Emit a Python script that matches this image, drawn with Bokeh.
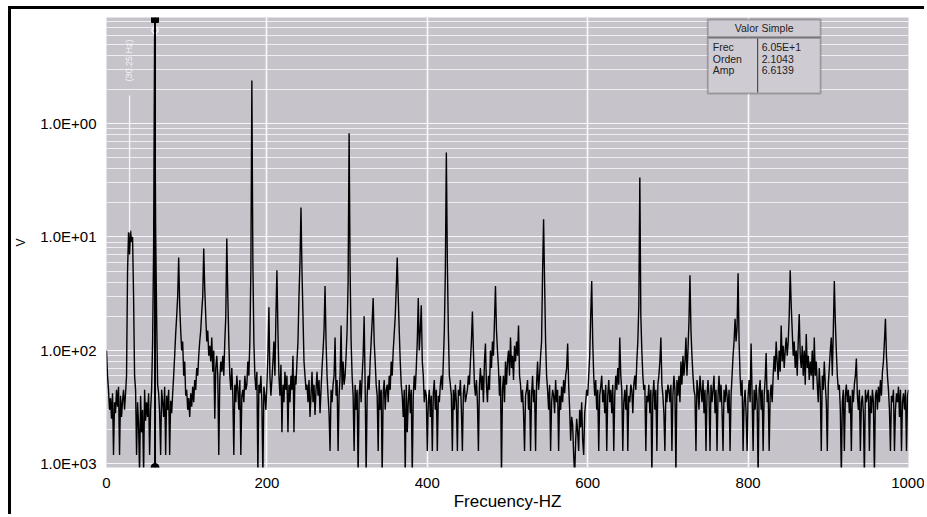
import math
from bokeh.plotting import figure
from bokeh.models import (Range1d, FixedTicker, CustomJSTickFormatter,
                          BoxAnnotation, Label, Span)
from bokeh.embed import file_html
from bokeh.resources import INLINE

# ---------------- data ----------------
freq_step = 1.25  # Hz per spectral line
amplitude = [
    0.010, 0.006, 0.0045, 0.003, 0.0038, 0.0025, 0.0042, 0.0012, 0.0035, 0.0028, 0.0045, 0.0032, 0.0048, 0.0012, 0.004, 0.0026, 0.0036, 0.0045, 0.003, 0.0042,
    0.006, 0.05, 0.11, 0.07, 0.114, 0.09, 0.1, 0.03, 0.006, 0.0045, 0.0012, 0.0035, 0.0022, 0.0008, 0.004, 0.0019, 0.003, 0.0008, 0.0045, 0.0024,
    0.0035, 0.0026, 0.0042, 0.0012, 0.003, 0.0045, 0.012, 0.08, 6.61, 0.12, 0.02, 0.005, 0.0042, 0.0028, 0.0012, 0.0045, 0.0035, 0.0026, 0.0048, 0.0012,
    0.004, 0.003, 0.0045, 0.0012, 0.0036, 0.0028, 0.0042, 0.006, 0.009, 0.014, 0.02, 0.03, 0.066, 0.025, 0.015, 0.01, 0.012, 0.006, 0.008, 0.004,
    0.0045, 0.003, 0.0038, 0.0026, 0.0042, 0.0032, 0.0048, 0.0035, 0.0055, 0.0045, 0.007, 0.006, 0.009, 0.012, 0.015, 0.022, 0.03, 0.079, 0.035, 0.02,
    0.012, 0.015, 0.009, 0.011, 0.008, 0.013, 0.0065, 0.01, 0.0025, 0.007, 0.009, 0.006, 0.0012, 0.0055, 0.008, 0.0065, 0.009, 0.006, 0.012, 0.02,
    0.097, 0.03, 0.012, 0.006, 0.0045, 0.007, 0.004, 0.0012, 0.005, 0.0035, 0.006, 0.0045, 0.003, 0.0055, 0.0012, 0.004, 0.0045, 0.0035, 0.006, 0.0045,
    0.005, 0.008, 0.006, 0.012, 0.05, 2.39, 0.06, 0.012, 0.006, 0.0045, 0.0065, 0.0008, 0.005, 0.0042, 0.006, 0.0035, 0.0008, 0.0048, 0.004, 0.003,
    0.005, 0.009, 0.024, 0.006, 0.004, 0.0055, 0.008, 0.012, 0.006, 0.02, 0.051, 0.015, 0.006, 0.004, 0.0075, 0.0019, 0.005, 0.0035, 0.0065, 0.0045,
    0.006, 0.0019, 0.005, 0.0035, 0.006, 0.0045, 0.009, 0.0019, 0.006, 0.005, 0.008, 0.012, 0.03, 0.06, 0.182, 0.05, 0.02, 0.008, 0.006, 0.0045,
    0.005, 0.0035, 0.0055, 0.0026, 0.004, 0.0065, 0.0035, 0.005, 0.0027, 0.0045, 0.0065, 0.004, 0.0055, 0.0028, 0.0045, 0.007, 0.01, 0.015, 0.037, 0.012,
    0.006, 0.004, 0.0028, 0.0013, 0.0045, 0.0035, 0.005, 0.006, 0.013, 0.004, 0.0055, 0.0013, 0.004, 0.006, 0.0166, 0.0045, 0.008, 0.005, 0.006, 0.009,
    0.015, 0.04, 0.82, 0.05, 0.012, 0.006, 0.004, 0.0013, 0.005, 0.003, 0.0045, 0.0008, 0.004, 0.0055, 0.0035, 0.006, 0.009, 0.02, 0.005, 0.0008,
    0.004, 0.006, 0.0045, 0.008, 0.012, 0.018, 0.029, 0.012, 0.008, 0.005, 0.004, 0.0013, 0.0055, 0.003, 0.0045, 0.0008, 0.0042, 0.0055, 0.003, 0.0045,
    0.005, 0.0035, 0.006, 0.0045, 0.008, 0.006, 0.01, 0.014, 0.02, 0.035, 0.066, 0.03, 0.015, 0.008, 0.005, 0.004, 0.0026, 0.0045, 0.0008, 0.005,
    0.0019, 0.0035, 0.005, 0.0028, 0.0045, 0.0008, 0.004, 0.006, 0.0045, 0.007, 0.012, 0.029, 0.01, 0.015, 0.025, 0.008, 0.006, 0.0035, 0.0045, 0.004,
    0.0013, 0.0035, 0.0045, 0.0026, 0.004, 0.0013, 0.0042, 0.0055, 0.003, 0.0045, 0.0013, 0.004, 0.0035, 0.005, 0.006, 0.0045, 0.008, 0.015, 0.05, 0.555,
    0.06, 0.015, 0.006, 0.005, 0.004, 0.0013, 0.0045, 0.003, 0.005, 0.0035, 0.0013, 0.0045, 0.004, 0.0055, 0.003, 0.0013, 0.0042, 0.005, 0.0035, 0.004,
    0.0045, 0.006, 0.005, 0.008, 0.012, 0.022, 0.01, 0.005, 0.004, 0.0055, 0.0035, 0.0013, 0.005, 0.007, 0.0045, 0.006, 0.0035, 0.008, 0.0115, 0.005,
    0.0035, 0.006, 0.0045, 0.01, 0.007, 0.012, 0.009, 0.018, 0.037, 0.015, 0.01, 0.007, 0.004, 0.006, 0.0008, 0.0045, 0.006, 0.0035, 0.008, 0.005,
    0.008, 0.01, 0.006, 0.013, 0.007, 0.009, 0.0055, 0.011, 0.008, 0.012, 0.009, 0.0166, 0.006, 0.005, 0.0035, 0.0045, 0.0028, 0.0013, 0.004, 0.0045,
    0.0055, 0.003, 0.0045, 0.0013, 0.004, 0.006, 0.0035, 0.0045, 0.0013, 0.005, 0.008, 0.0045, 0.006, 0.009, 0.012, 0.05, 0.143, 0.04, 0.012, 0.006,
    0.0045, 0.003, 0.005, 0.0013, 0.0035, 0.0045, 0.004, 0.0028, 0.0055, 0.0035, 0.0045, 0.0013, 0.004, 0.003, 0.0048, 0.0035, 0.0055, 0.0042, 0.006, 0.007,
    0.0115, 0.005, 0.003, 0.0016, 0.0026, 0.0022, 0.0012, 0.0008, 0.0016, 0.0025, 0.0019, 0.0013, 0.003, 0.0021, 0.0035, 0.0016, 0.0012, 0.0028, 0.0035, 0.0045,
    0.004, 0.006, 0.009, 0.02, 0.041, 0.012, 0.006, 0.004, 0.0055, 0.003, 0.0045, 0.0013, 0.004, 0.0048, 0.006, 0.0035, 0.0045, 0.0028, 0.005, 0.0013,
    0.004, 0.0055, 0.0035, 0.0045, 0.0028, 0.005, 0.0013, 0.004, 0.006, 0.0045, 0.007, 0.005, 0.013, 0.006, 0.0045, 0.0013, 0.0035, 0.0045, 0.003, 0.005,
    0.0013, 0.004, 0.0035, 0.005, 0.0045, 0.0028, 0.005, 0.006, 0.0045, 0.008, 0.012, 0.025, 0.334, 0.02, 0.01, 0.006, 0.0045, 0.005, 0.0013, 0.004,
    0.0035, 0.005, 0.0028, 0.0045, 0.0008, 0.004, 0.0055, 0.003, 0.0045, 0.0013, 0.005, 0.006, 0.008, 0.013, 0.005, 0.004, 0.0028, 0.0013, 0.0045, 0.0035,
    0.005, 0.0045, 0.0035, 0.005, 0.0013, 0.004, 0.006, 0.0045, 0.0008, 0.0055, 0.004, 0.006, 0.0035, 0.008, 0.005, 0.009, 0.006, 0.008, 0.013, 0.006,
    0.01, 0.018, 0.046, 0.015, 0.009, 0.006, 0.0045, 0.004, 0.0013, 0.0055, 0.0045, 0.003, 0.006, 0.0045, 0.0035, 0.0055, 0.0028, 0.0045, 0.0013, 0.004,
    0.0055, 0.004, 0.0013, 0.005, 0.0035, 0.0045, 0.006, 0.0028, 0.0045, 0.0013, 0.004, 0.006, 0.0035, 0.005, 0.003, 0.0013, 0.0045, 0.0035, 0.005, 0.004,
    0.0028, 0.0045, 0.0013, 0.004, 0.006, 0.009, 0.012, 0.019, 0.012, 0.016, 0.048, 0.012, 0.006, 0.004, 0.0055, 0.0013, 0.0035, 0.0045, 0.0028, 0.0013,
    0.004, 0.0055, 0.0035, 0.0115, 0.004, 0.0013, 0.0045, 0.003, 0.005, 0.0035, 0.0008, 0.0045, 0.0055, 0.003, 0.0045, 0.0013, 0.004, 0.0055, 0.0095, 0.0035,
    0.0045, 0.0013, 0.004, 0.005, 0.0035, 0.006, 0.009, 0.0065, 0.012, 0.008, 0.0055, 0.01, 0.0065, 0.0166, 0.008, 0.011, 0.007, 0.01, 0.013, 0.009,
    0.012, 0.02, 0.051, 0.025, 0.015, 0.009, 0.012, 0.007, 0.01, 0.006, 0.012, 0.021, 0.009, 0.007, 0.011, 0.006, 0.01, 0.005, 0.014, 0.007,
    0.009, 0.0055, 0.008, 0.006, 0.01, 0.0045, 0.013, 0.006, 0.008, 0.005, 0.0035, 0.007, 0.0045, 0.0013, 0.006, 0.0045, 0.008, 0.005, 0.0035, 0.0013,
    0.005, 0.007, 0.01, 0.013, 0.006, 0.015, 0.041, 0.018, 0.01, 0.006, 0.0045, 0.005, 0.003, 0.0008, 0.0035, 0.0045, 0.0013, 0.004, 0.005, 0.0035,
    0.0045, 0.0028, 0.004, 0.0013, 0.0045, 0.0035, 0.005, 0.006, 0.0085, 0.004, 0.003, 0.0045, 0.0013, 0.0035, 0.004, 0.0028, 0.0008, 0.0045, 0.0035, 0.004,
    0.0045, 0.0013, 0.004, 0.0028, 0.0045, 0.0035, 0.0008, 0.004, 0.0045, 0.003, 0.0048, 0.0035, 0.0055, 0.004, 0.0065, 0.008, 0.012, 0.019, 0.009, 0.006,
    0.0045, 0.003, 0.0013, 0.004, 0.0035, 0.0045, 0.0013, 0.003, 0.0042, 0.0035, 0.0048, 0.0026, 0.0045, 0.0013, 0.0035, 0.0042, 0.003, 0.0045, 0.0013, 0.004,
    0.0045,
]
frequency = [i * freq_step for i in range(len(amplitude))]

x_ticks = [0, 200, 400, 600, 800, 1000]
y_ticks = [1.0, 0.1, 0.01, 0.001]
y_tick_labels = ["1.0E+00", "1.0E+01", "1.0E+02", "1.0E+03"]

cursor_freq = 60.5
cursor_amp = 6.6139
info_title = "Valor Simple"
info_names = ["Frec", "Orden", "Amp"]
info_values = ["6.05E+1", "2.1043", "6.6139"]
marker_label = "(30.25 Hz)"

# ---------------- layout constants (page pixels) ----------------
PAGE_W, PAGE_H = 927, 517
OFF_X, OFF_Y = 11, 9          # figure origin on the page (after black frame)
FL, FT, FW, FH = 105, 17, 803, 450   # plot area on the page
W, H = PAGE_W - OFF_X, PAGE_H - OFF_Y
X0, X1 = 0, 1000
LOG_TOP, LOG_BOT = 0.934, -3.031
BG = "#c7c3cb"
FONT = "Liberation Sans"


def fx(px):
    return X0 + (px - FL) / FW * (X1 - X0)


def fy(py):
    return 10 ** (LOG_TOP - (py - FT) / FH * (LOG_TOP - LOG_BOT))


p = figure(width=W, height=H, x_range=Range1d(X0, X1),
           y_range=Range1d(10 ** LOG_BOT, 10 ** LOG_TOP), y_axis_type="log",
           output_backend="svg", toolbar_location=None,
           min_border_left=FL - OFF_X, min_border_right=PAGE_W - FL - FW,
           min_border_top=FT - OFF_Y, min_border_bottom=PAGE_H - FT - FH,
           styles={"margin-left": "8px", "margin-top": "6px",
                   "border-left": "3px solid black",
                   "border-top": "3px solid black"})
p.background_fill_color = BG
p.border_fill_color = "white"
p.outline_line_color = None

minor = [m * 10.0 ** e for e in range(-4, 1) for m in range(2, 10)]
yt = FixedTicker(ticks=y_ticks, minor_ticks=minor)
p.yaxis.ticker = yt
p.ygrid.ticker = yt
p.yaxis.formatter = CustomJSTickFormatter(
    args=dict(labels=y_tick_labels),
    code="return labels[Math.round(-Math.log10(tick))];")
p.xaxis.ticker = FixedTicker(ticks=x_ticks)
p.xgrid.ticker = FixedTicker(ticks=x_ticks[1:-1])

p.xgrid.grid_line_color = "white"
p.xgrid.grid_line_width = 1.6
p.xgrid.grid_line_alpha = 0.9
p.ygrid.grid_line_color = "white"
p.ygrid.grid_line_width = 1.2
p.ygrid.grid_line_alpha = 0.85
p.ygrid.minor_grid_line_color = "white"
p.ygrid.minor_grid_line_width = 1.2
p.ygrid.minor_grid_line_alpha = 0.7

for ax in (p.xaxis[0], p.yaxis[0]):
    ax.axis_line_color = None
    ax.major_tick_line_color = None
    ax.minor_tick_line_color = None
    ax.major_tick_out = 0
    ax.major_tick_in = 0
    ax.minor_tick_out = 0
    ax.minor_tick_in = 0
    ax.major_label_text_font = FONT
    ax.major_label_text_font_size = "15px"
    ax.major_label_text_color = "black"
    ax.axis_label_text_font = FONT
    ax.axis_label_text_font_style = "normal"
    ax.axis_label_text_color = "black"

p.xaxis.axis_label = "Frecuency-HZ"
p.xaxis.axis_label_text_font_size = "17px"
p.xaxis.major_label_standoff = 10
p.xaxis.axis_label_standoff = 1
p.yaxis.axis_label = "V"
p.yaxis.axis_label_text_font_size = "12px"
p.yaxis.major_label_standoff = 10
p.yaxis.axis_label_standoff = 9

# spectrum
p.line(frequency, amplitude, line_color="#000000", line_width=1.4)

# cursor at the fundamental
p.add_layout(Span(location=cursor_freq, dimension="height",
                  line_color="black", line_width=2))
p.scatter([cursor_freq], [fy(18.5)], marker="square", size=7, color="black")
p.scatter([cursor_freq], [cursor_amp], marker="diamond", size=10,
          fill_alpha=0, line_color="#f2f2f2", line_width=1.5)
p.scatter([cursor_freq], [fy(467)], marker="circle", size=8, color="black")

# white marker line with rotated text (half order)
p.add_layout(BoxAnnotation(left=fx(127.4), right=fx(128.8), top=fy(95),
                           bottom=fy(232), fill_color="white", fill_alpha=0.8,
                           line_color=None))
p.add_layout(Label(x=fx(128), y=fy(60), text=marker_label, angle=math.pi / 2,
                   text_align="center", text_baseline="middle",
                   text_color="white", text_alpha=0.8, text_font=FONT,
                   text_font_size="9px"))

# info box
BOX_FILL = "#cfcbd3"
p.add_layout(BoxAnnotation(left=fx(707), right=fx(820), top=fy(19), bottom=fy(36.5),
                           fill_color=BOX_FILL, fill_alpha=1,
                           line_color="#2a2a2a", line_width=1.8))
p.add_layout(BoxAnnotation(left=fx(707), right=fx(820), top=fy(37.5), bottom=fy(93),
                           fill_color=BOX_FILL, fill_alpha=1,
                           line_color="#2a2a2a", line_width=1.8))
p.add_layout(BoxAnnotation(left=fx(756.5), right=fx(757.5), top=fy(38), bottom=fy(92),
                           fill_color="#333333", fill_alpha=1, line_color=None))
p.add_layout(Label(x=fx(763.5), y=fy(27.5), text=info_title, text_align="center",
                   text_baseline="middle", text_font=FONT, text_font_size="10.5px",
                   text_color="#222222"))
for k, (nm, vl) in enumerate(zip(info_names, info_values)):
    yy = fy(46.5 + 11.5 * k)
    p.add_layout(Label(x=fx(712), y=yy, text=nm, text_align="left",
                       text_baseline="middle", text_font=FONT,
                       text_font_size="10.5px", text_color="#222222"))
    p.add_layout(Label(x=fx(761), y=yy, text=vl, text_align="left",
                       text_baseline="middle", text_font=FONT,
                       text_font_size="10.5px", text_color="#222222"))

open("out.html", "w").write(file_html(p, INLINE))
